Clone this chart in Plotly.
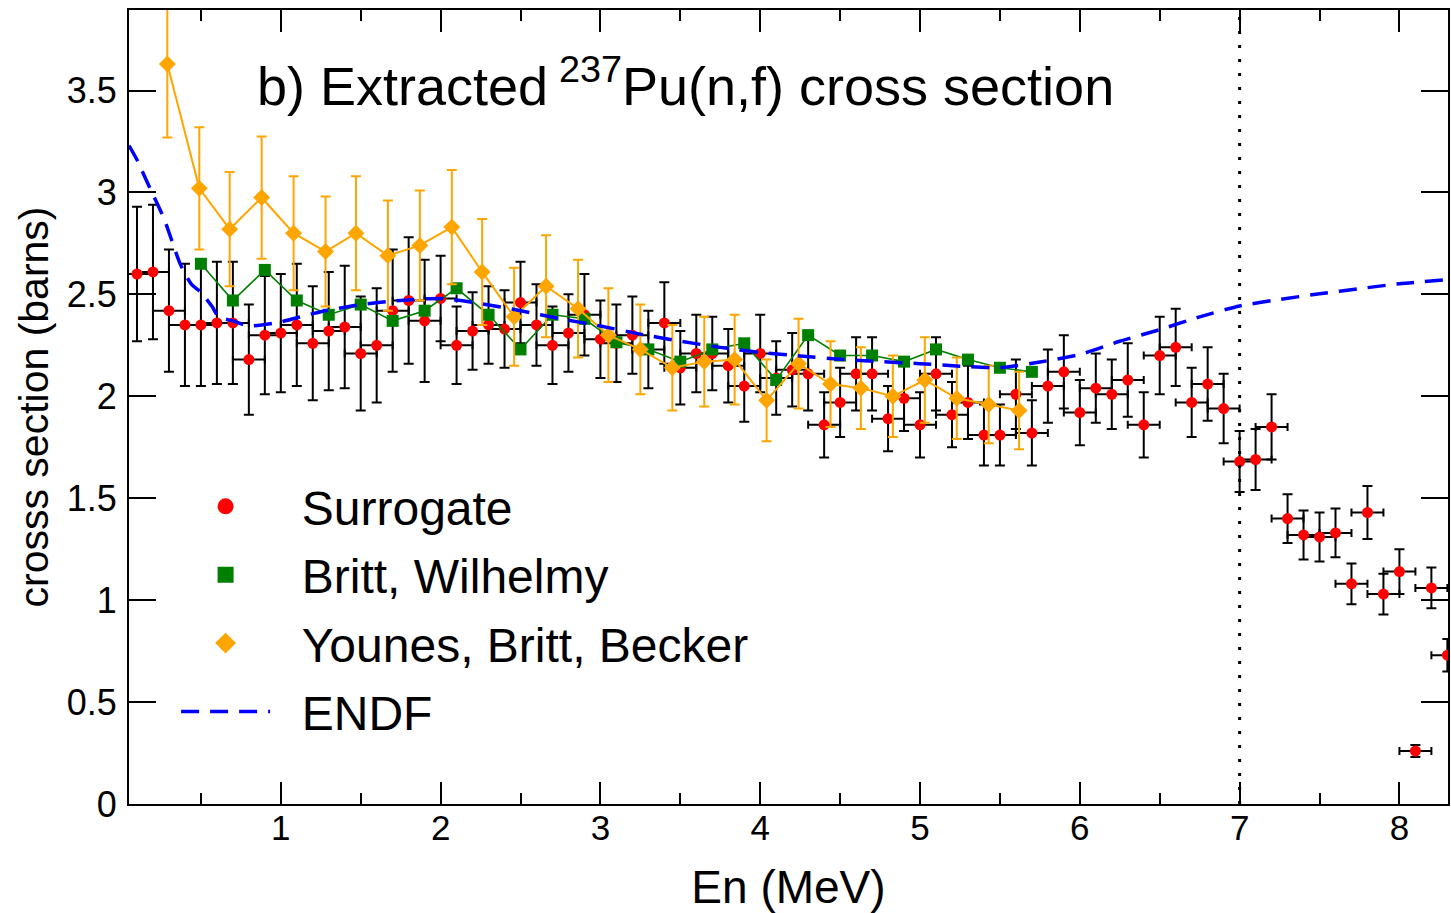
import plotly.graph_objects as go

# ---------------- data ----------------
surr_x = [0.1, 0.2, 0.3, 0.4, 0.5, 0.6, 0.7, 0.8, 0.9, 1.0,
          1.1, 1.2, 1.3, 1.4, 1.5, 1.6, 1.7, 1.8, 1.9, 2.0,
          2.1, 2.2, 2.3, 2.4, 2.5, 2.6, 2.7, 2.8, 2.9, 3.0,
          3.1, 3.2, 3.3, 3.4, 3.5, 3.6, 3.7, 3.8, 3.9, 4.0,
          4.1, 4.2, 4.3, 4.4, 4.5, 4.6, 4.7, 4.8, 4.9, 5.0,
          5.1, 5.2, 5.3, 5.4, 5.5, 5.6, 5.7, 5.8, 5.9, 6.0,
          6.1, 6.2, 6.3, 6.4, 6.5, 6.6, 6.7, 6.8, 6.9, 7.0,
          7.1, 7.2, 7.3, 7.4, 7.5, 7.6, 7.7, 7.8, 7.9, 8.0,
          8.1, 8.2, 8.3]
surr_y = [2.60, 2.61, 2.42, 2.35, 2.35, 2.36, 2.36, 2.18, 2.30, 2.31,
          2.35, 2.26, 2.32, 2.34, 2.21, 2.25, 2.42, 2.47, 2.37, 2.48,
          2.25, 2.32, 2.35, 2.33, 2.46, 2.35, 2.25, 2.31, 2.40, 2.28,
          2.26, 2.30, 2.23, 2.36, 2.14, 2.21, 2.21, 2.15, 2.05, 2.21,
          2.09, 2.13, 2.11, 1.86, 1.97, 2.11, 2.11, 1.89, 1.99, 1.86,
          2.11, 1.91, 1.97, 1.81, 1.81, 2.01, 1.82, 2.05, 2.12, 1.92,
          2.04, 2.01, 2.08, 1.86, 2.20, 2.24, 1.97, 2.06, 1.94, 1.68,
          1.69, 1.85, 1.40, 1.32, 1.31, 1.33, 1.08, 1.43, 1.03, 1.14,
          0.26, 1.06, 0.73]
surr_dy = [0.33, 0.33, 0.30, 0.30, 0.30, 0.30, 0.30, 0.27, 0.29, 0.29,
           0.30, 0.28, 0.29, 0.30, 0.28, 0.28, 0.30, 0.31, 0.30, 0.21,
           0.19, 0.19, 0.19, 0.19, 0.20, 0.20, 0.19, 0.19, 0.20, 0.19,
           0.19, 0.19, 0.19, 0.20, 0.18, 0.19, 0.18, 0.18, 0.175, 0.19,
           0.18, 0.18, 0.18, 0.16, 0.17, 0.18, 0.18, 0.16, 0.16, 0.16,
           0.18, 0.16, 0.18, 0.15, 0.15, 0.17, 0.16, 0.18, 0.18, 0.16,
           0.17, 0.17, 0.18, 0.16, 0.19, 0.19, 0.17, 0.18, 0.17, 0.15,
           0.15, 0.16, 0.12, 0.12, 0.12, 0.12, 0.10, 0.13, 0.10, 0.11,
           0.03, 0.10, 0.08]
surr_dx = [0.1] * len(surr_x)

britt_x = [0.5, 0.7, 0.9, 1.1, 1.3, 1.5, 1.7, 1.9, 2.1, 2.3,
           2.5, 2.7, 2.9, 3.1, 3.3, 3.5, 3.7, 3.9, 4.1, 4.3,
           4.5, 4.7, 4.9, 5.1, 5.3, 5.5, 5.7]
britt_y = [2.65, 2.47, 2.62, 2.47, 2.40, 2.45, 2.37, 2.42, 2.53, 2.40,
           2.23, 2.40, 2.38, 2.265, 2.23, 2.17, 2.23, 2.26, 2.08, 2.30,
           2.20, 2.20, 2.17, 2.23, 2.18, 2.14, 2.12]

younes_x = [0.29, 0.49, 0.68, 0.88, 1.08, 1.28, 1.47, 1.67, 1.87, 2.07,
            2.26, 2.46, 2.66, 2.86, 3.05, 3.25, 3.45, 3.65, 3.84, 4.04,
            4.24, 4.44, 4.63, 4.83, 5.03, 5.23, 5.43, 5.62]
younes_y = [3.63, 3.02, 2.82, 2.975, 2.80, 2.71, 2.80, 2.69, 2.74, 2.83,
            2.61, 2.39, 2.54, 2.43, 2.30, 2.23, 2.14, 2.17, 2.18, 1.98,
            2.16, 2.06, 2.04, 2.00, 2.08, 1.99, 1.96, 1.93]
younes_dy = [0.36, 0.30, 0.28, 0.30, 0.28, 0.27, 0.28, 0.27, 0.27, 0.28,
             0.26, 0.24, 0.25, 0.24, 0.23, 0.22, 0.21, 0.22, 0.22, 0.20,
             0.22, 0.21, 0.20, 0.20, 0.21, 0.20, 0.19, 0.19]

endf_x = [0.05, 0.1, 0.17, 0.27, 0.37, 0.44, 0.5, 0.57, 0.61, 0.7,
          0.8, 1.0, 1.25, 1.5, 1.75, 2.0, 2.25, 2.5, 2.75, 3.0,
          3.25, 3.5, 3.75, 4.0, 4.25, 4.5, 4.75, 5.0, 5.25, 5.5,
          5.75, 6.0, 6.25, 6.5, 6.75, 7.0, 7.25, 7.5, 7.75, 8.0, 8.3]
endf_y = [3.23, 3.16, 3.04, 2.87, 2.65, 2.55, 2.51, 2.44, 2.39, 2.37,
          2.345, 2.365, 2.415, 2.45, 2.47, 2.48, 2.455, 2.42, 2.38, 2.345,
          2.305, 2.27, 2.24, 2.215, 2.198, 2.182, 2.17, 2.16, 2.148, 2.141,
          2.168, 2.205, 2.27, 2.327, 2.39, 2.443, 2.475, 2.503, 2.528, 2.552, 2.572]

threshold_x = 7.0
x_tick_vals = [1, 2, 3, 4, 5, 6, 7, 8]
y_tick_vals = [0, 0.5, 1, 1.5, 2, 2.5, 3, 3.5]
y_tick_text = ["0", "0.5", "1", "1.5", "2", "2.5", "3", "3.5"]
legend_names = ["Surrogate", "Britt, Wilhelmy", "Younes, Britt, Becker", "ENDF"]

FONT = "Liberation Sans, Arial, Helvetica, sans-serif"
PAD = "\u00a0\u00a0"

fig = go.Figure()

# ---------------- data traces ----------------
fig.add_trace(go.Scatter(
    x=surr_x, y=surr_y, mode="markers", name=legend_names[0], showlegend=False,
    legendgroup="g1",
    marker=dict(symbol="circle", size=11, color="#ff0000"),
    error_y=dict(type="data", array=surr_dy, visible=True, color="black",
                 thickness=2, width=5),
    error_x=dict(type="data", array=surr_dx, visible=True, color="black",
                 thickness=2, width=4),
))

fig.add_trace(go.Scatter(
    x=britt_x, y=britt_y, mode="lines+markers", name=legend_names[1], showlegend=False,
    legendgroup="g2",
    marker=dict(symbol="square", size=12, color="#008000"),
    line=dict(color="#008000", width=1.6),
))

fig.add_trace(go.Scatter(
    x=younes_x, y=younes_y, mode="lines+markers", name=legend_names[2], showlegend=False,
    legendgroup="g3",
    marker=dict(symbol="diamond", size=13, color="#ffa500"),
    line=dict(color="#ffa500", width=2),
    error_y=dict(type="data", array=younes_dy, visible=True, color="#ffa500",
                 thickness=2, width=5),
))

fig.add_trace(go.Scatter(
    x=endf_x, y=endf_y, mode="lines", name=PAD + legend_names[3],
    legendgroup="g4", legendrank=4,
    line=dict(color="#0000ff", width=3.5, dash="18px,11px", shape="spline",
              smoothing=0.6),
))

# ---------------- legend entries (marker-only symbols, as in the reference) ----------------
fig.add_trace(go.Scatter(
    x=[None], y=[None], mode="markers", name=PAD + legend_names[0],
    legendgroup="g1", legendrank=1,
    marker=dict(symbol="circle", size=16, color="#ff0000"),
))
fig.add_trace(go.Scatter(
    x=[None], y=[None], mode="markers", name=PAD + legend_names[1],
    legendgroup="g2", legendrank=2,
    marker=dict(symbol="square", size=16, color="#008000"),
))
fig.add_trace(go.Scatter(
    x=[None], y=[None], mode="markers", name=PAD + legend_names[2],
    legendgroup="g3", legendrank=3,
    marker=dict(symbol="diamond", size=16, color="#ffa500"),
))

fig.add_vline(x=threshold_x, line=dict(color="black", width=3, dash="3px,11px"))

fig.add_annotation(
    xref="paper", yref="paper", x=0.0955, y=0.909, xanchor="left", yanchor="middle",
    text="b) Extracted\u2009<sup>237</sup>Pu(n,f) cross section", showarrow=False,
    font=dict(family=FONT, size=54, color="black"),
)

axis_common = dict(
    showline=True, linewidth=2, linecolor="black", mirror="ticks",
    ticks="inside", tickwidth=2, tickcolor="black", showgrid=False,
    zeroline=False,
)

fig.update_xaxes(
    range=[0.05, 8.304], tickmode="array", tickvals=x_tick_vals, ticklen=22,
    minor=dict(dtick=0.5, tick0=0, ticklen=11, tickwidth=2, tickcolor="black",
               ticks="inside", showgrid=False),
    tickfont=dict(family=FONT, size=35, color="black"),
    title=dict(text="En (MeV)", font=dict(family=FONT, size=46, color="black"),
               standoff=30),
    ticklabelstandoff=-8,
    **axis_common,
)
fig.update_yaxes(
    range=[0, 3.895], tickmode="array", tickvals=y_tick_vals, ticktext=y_tick_text,
    ticklen=27,
    tickfont=dict(family=FONT, size=36, color="black"),
    title=dict(text="crosss section (barns)", font=dict(family=FONT, size=41, color="black"),
               standoff=5),
    ticklabelstandoff=3,
    **axis_common,
)

fig.update_layout(
    width=1451, height=913,
    margin=dict(l=129, r=1, t=10, b=109),
    paper_bgcolor="white", plot_bgcolor="white",
    font=dict(family=FONT, color="black"),
    showlegend=True,
    legend=dict(x=0.0357, y=0.4224, xanchor="left", yanchor="top",
                bgcolor="rgba(0,0,0,0)", borderwidth=0, traceorder="grouped",
                font=dict(family=FONT, size=48, color="black"),
                itemwidth=89, tracegroupgap=3),
)

fig.write_html("out.html")
